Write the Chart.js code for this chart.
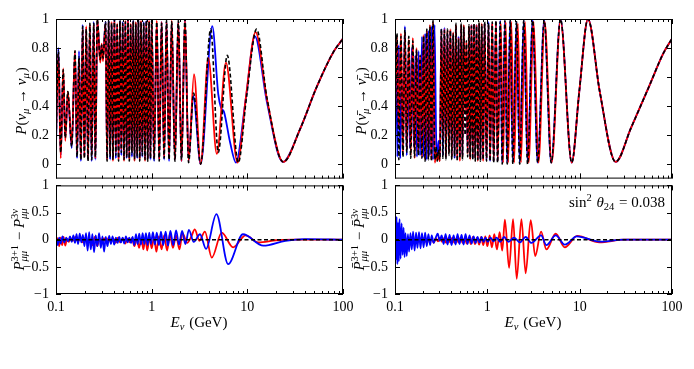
<!DOCTYPE html>
<html>
<head>
<meta charset="utf-8">
<script src="https://cdn.jsdelivr.net/npm/chart.js@4.4.1/dist/chart.umd.min.js"></script>
<style>
  body { margin: 0; background: #fff; width: 694px; height: 369px; position: relative; overflow: hidden; }
  canvas { position: absolute; }
</style>
</head>
<body>
<canvas id="tl" width="360" height="194" style="left:0;top:0"></canvas>
<canvas id="bl" width="360" height="199" style="left:0;top:170px"></canvas>
<canvas id="tr" width="349" height="194" style="left:345px;top:0"></canvas>
<canvas id="br" width="349" height="199" style="left:345px;top:170px"></canvas>
<script>
// tick labels
const xTickVals = [0.1, 1, 10, 100];
const topYTicks = [0, 0.2, 0.4, 0.6, 0.8, 1];
const diffYTicks = [-1, -0.5, 0, 0.5, 1];

// P(nu_mu -> nu_mu): [E (GeV), P]  -- 3nu (black dashed), red, blue
const nuTop3 = [[0.100,0.15],[0.106,0.78],[0.112,0.08],[0.119,0.65],[0.125,0.18],[0.133,0.50],[0.146,0.12],[0.158,0.78],[0.166,0.05],[0.174,0.74],[0.182,0.03],[0.190,0.95],[0.198,0.04],[0.207,0.93],[0.216,0.02],[0.226,0.97],[0.236,0.03],[0.248,0.97],[0.258,0.05],[0.270,1.00],[0.290,0.72],[0.300,0.82],[0.310,0.73],[0.330,0.98],[0.342,0.02],[0.355,0.99],[0.368,0.05],[0.381,0.97],[0.394,0.03],[0.408,1.00],[0.422,0.06],[0.436,0.96],[0.451,0.02],[0.466,0.99],[0.482,0.08],[0.498,0.97],[0.514,0.03],[0.531,0.98],[0.548,0.05],[0.566,1.00],[0.584,0.02],[0.603,0.96],[0.622,0.07],[0.642,0.99],[0.662,0.03],[0.683,0.97],[0.705,0.05],[0.727,0.99],[0.750,0.02],[0.774,0.98],[0.799,0.06],[0.825,0.97],[0.852,0.03],[0.880,0.99],[0.909,0.02],[0.940,0.98],[0.972,0.04],[1.00,0.99],[1.06,0.03],[1.13,0.98],[1.20,0.02],[1.27,0.97],[1.35,0.04],[1.43,0.99],[1.52,0.03],[1.62,0.98],[1.75,0.02],[1.90,0.99],[2.05,0.03],[2.23,1.00],[2.43,0.01],[2.74,0.49],[3.25,0.00],[4.14,0.93],[4.97,0.08],[6.17,0.75],[8.04,0.01],[9.8,0.46],[12.5,0.93],[16.0,0.46],[23.7,0.015],[35.5,0.24],[53.0,0.53],[79.0,0.77],[100,0.865]];
const nuTopRed = [[0.100,0.18],[0.106,0.76],[0.112,0.04],[0.119,0.66],[0.125,0.16],[0.133,0.50],[0.146,0.13],[0.158,0.78],[0.166,0.08],[0.174,0.72],[0.182,0.04],[0.190,0.93],[0.198,0.05],[0.207,0.95],[0.216,0.03],[0.226,0.96],[0.236,0.06],[0.248,0.96],[0.258,0.04],[0.270,1.00],[0.290,0.70],[0.300,0.83],[0.310,0.71],[0.330,0.97],[0.342,0.03],[0.355,0.98],[0.368,0.07],[0.381,0.98],[0.394,0.02],[0.408,0.99],[0.422,0.08],[0.436,0.97],[0.451,0.03],[0.466,0.98],[0.482,0.10],[0.498,0.96],[0.514,0.02],[0.531,0.99],[0.548,0.06],[0.566,0.99],[0.584,0.03],[0.603,0.97],[0.622,0.09],[0.642,0.98],[0.662,0.02],[0.683,0.98],[0.705,0.07],[0.727,0.98],[0.750,0.03],[0.774,0.99],[0.799,0.08],[0.825,0.96],[0.852,0.02],[0.880,0.98],[0.909,0.03],[0.940,0.99],[0.972,0.05],[1.00,0.98],[1.06,0.04],[1.13,0.99],[1.20,0.03],[1.27,0.98],[1.35,0.05],[1.43,0.98],[1.52,0.04],[1.62,0.99],[1.75,0.03],[1.90,0.98],[2.05,0.02],[2.23,1.00],[2.43,0.02],[2.77,0.62],[3.25,0.00],[3.91,0.73],[4.80,0.07],[5.97,0.70],[7.90,0.01],[9.7,0.47],[12.2,0.91],[16.0,0.45],[23.7,0.015],[35.5,0.24],[53.0,0.53],[79.0,0.77],[100,0.865]];
const nuTopBlue = [[0.100,0.12],[0.106,0.80],[0.112,0.06],[0.119,0.62],[0.125,0.19],[0.133,0.48],[0.146,0.11],[0.158,0.76],[0.166,0.04],[0.174,0.78],[0.182,0.02],[0.190,0.96],[0.198,0.06],[0.207,0.92],[0.216,0.03],[0.226,0.95],[0.236,0.02],[0.248,0.98],[0.258,0.03],[0.270,0.99],[0.290,0.73],[0.300,0.82],[0.310,0.74],[0.330,0.98],[0.342,0.04],[0.355,0.99],[0.368,0.03],[0.381,0.96],[0.394,0.05],[0.408,1.00],[0.422,0.04],[0.436,0.95],[0.451,0.04],[0.466,0.99],[0.482,0.06],[0.498,0.98],[0.514,0.05],[0.531,0.97],[0.548,0.04],[0.566,1.00],[0.584,0.04],[0.603,0.95],[0.622,0.05],[0.642,0.99],[0.662,0.05],[0.683,0.96],[0.705,0.04],[0.727,0.99],[0.750,0.04],[0.774,0.97],[0.799,0.05],[0.825,0.98],[0.852,0.04],[0.880,0.99],[0.909,0.04],[0.940,0.97],[0.972,0.03],[1.00,0.99],[1.06,0.02],[1.13,0.97],[1.20,0.03],[1.27,0.98],[1.35,0.03],[1.43,0.98],[1.52,0.02],[1.62,0.97],[1.75,0.03],[1.90,0.98],[2.05,0.02],[2.23,0.99],[2.43,0.02],[2.72,0.47],[3.25,0.00],[4.30,0.95],[4.97,0.48],[5.30,0.39],[5.70,0.36],[6.60,0.15],[7.60,0.01],[9.6,0.44],[12.0,0.88],[16.0,0.43],[23.5,0.015],[35.5,0.24],[53.0,0.53],[79.0,0.77],[100,0.865]];

// P(anti-nu_mu -> anti-nu_mu)
const anuTop3 = [[0.100,0.05],[0.105,0.90],[0.110,0.03],[0.116,0.88],[0.122,0.05],[0.128,0.93],[0.134,0.08],[0.141,0.88],[0.148,0.04],[0.156,0.85],[0.163,0.05],[0.171,0.79],[0.179,0.06],[0.187,0.75],[0.196,0.04],[0.204,0.88],[0.212,0.02],[0.221,0.93],[0.230,0.03],[0.239,0.95],[0.248,0.02],[0.258,0.99],[0.270,0.03],[0.279,0.12],[0.287,0.02],[0.296,0.10],[0.306,0.03],[0.318,0.93],[0.330,0.04],[0.343,0.92],[0.356,0.03],[0.370,0.93],[0.384,0.06],[0.398,0.92],[0.412,0.03],[0.427,0.90],[0.442,0.05],[0.457,0.97],[0.472,0.02],[0.488,0.86],[0.504,0.04],[0.521,0.97],[0.538,0.03],[0.556,0.95],[0.574,0.20],[0.593,0.85],[0.612,0.05],[0.632,0.96],[0.652,0.04],[0.673,0.95],[0.695,0.03],[0.717,0.97],[0.740,0.02],[0.764,0.95],[0.789,0.03],[0.815,0.98],[0.842,0.02],[0.870,0.96],[0.900,0.03],[0.935,0.98],[0.980,0.02],[1.03,0.97],[1.07,0.02],[1.13,0.98],[1.17,0.01],[1.24,0.99],[1.29,0.01],[1.38,0.98],[1.45,0.00],[1.55,0.99],[1.64,0.00],[1.77,0.99],[1.89,0.00],[2.07,0.98],[2.24,0.00],[2.48,0.99],[2.73,0.00],[3.10,0.99],[3.51,0.01],[4.13,0.99],[4.92,0.01],[6.2,1.00],[8.2,0.01],[9.9,0.50],[12.3,1.00],[16.5,0.50],[24.5,0.015],[36,0.25],[56,0.53],[80,0.76],[100,0.865]];
const anuTopRed = [[0.100,0.30],[0.105,0.88],[0.110,0.25],[0.116,0.90],[0.122,0.08],[0.128,0.91],[0.134,0.10],[0.141,0.86],[0.148,0.06],[0.156,0.87],[0.163,0.04],[0.171,0.80],[0.179,0.08],[0.187,0.74],[0.196,0.05],[0.204,0.89],[0.212,0.03],[0.221,0.92],[0.230,0.05],[0.239,0.96],[0.248,0.03],[0.258,0.98],[0.270,0.01],[0.279,0.08],[0.287,0.03],[0.296,0.06],[0.306,0.02],[0.318,0.92],[0.330,0.18],[0.343,0.93],[0.356,0.05],[0.370,0.92],[0.384,0.08],[0.398,0.93],[0.412,0.05],[0.427,0.91],[0.442,0.07],[0.457,0.96],[0.472,0.04],[0.488,0.87],[0.504,0.02],[0.521,0.96],[0.538,0.05],[0.556,0.96],[0.574,0.35],[0.593,0.84],[0.612,0.07],[0.632,0.95],[0.652,0.03],[0.673,0.96],[0.695,0.05],[0.717,0.96],[0.740,0.04],[0.764,0.96],[0.789,0.02],[0.815,0.97],[0.842,0.04],[0.870,0.97],[0.900,0.02],[0.935,0.97],[0.980,0.04],[1.03,0.96],[1.07,0.03],[1.13,0.97],[1.17,0.02],[1.24,0.98],[1.29,0.02],[1.40,0.97],[1.48,0.01],[1.58,0.98],[1.68,0.01],[1.82,0.98],[1.95,0.01],[2.14,0.97],[2.31,0.01],[2.56,0.98],[2.80,0.01],[3.17,0.98],[3.58,0.01],[4.18,0.98],[4.97,0.01],[6.2,0.99],[8.2,0.01],[9.9,0.50],[12.3,1.00],[16.5,0.50],[24.5,0.015],[36,0.25],[56,0.53],[80,0.76],[100,0.865]];
const anuTopBlue = [[0.100,0.62],[0.103,0.83],[0.106,0.05],[0.110,0.82],[0.114,0.04],[0.118,0.60],[0.122,0.15],[0.128,0.95],[0.134,0.06],[0.139,0.70],[0.145,0.11],[0.152,0.80],[0.160,0.12],[0.166,0.75],[0.173,0.05],[0.180,0.78],[0.187,0.06],[0.196,0.88],[0.204,0.05],[0.212,0.90],[0.221,0.03],[0.230,0.92],[0.239,0.06],[0.248,0.95],[0.258,0.03],[0.268,0.96],[0.279,0.18],[0.287,0.04],[0.296,0.16],[0.306,0.05],[0.318,0.93],[0.330,0.06],[0.343,0.94],[0.356,0.05],[0.370,0.90],[0.384,0.09],[0.398,0.92],[0.412,0.06],[0.427,0.89],[0.442,0.04],[0.457,0.95],[0.472,0.06],[0.488,0.88],[0.504,0.05],[0.521,0.95],[0.538,0.06],[0.556,0.93],[0.574,0.45],[0.593,0.60],[0.612,0.08],[0.632,0.94],[0.652,0.05],[0.673,0.96],[0.695,0.04],[0.717,0.95],[0.740,0.05],[0.764,0.96],[0.789,0.04],[0.815,0.96],[0.842,0.03],[0.870,0.95],[0.900,0.04],[0.935,0.97],[0.980,0.03],[1.03,0.98],[1.07,0.02],[1.13,0.97],[1.17,0.02],[1.24,0.98],[1.29,0.02],[1.38,0.99],[1.45,0.01],[1.55,0.98],[1.64,0.01],[1.77,0.99],[1.89,0.01],[2.07,0.98],[2.24,0.01],[2.48,0.99],[2.73,0.01],[3.10,0.99],[3.51,0.01],[4.13,0.99],[4.92,0.01],[6.2,1.00],[8.2,0.01],[9.9,0.50],[12.3,1.00],[16.5,0.50],[24.5,0.015],[36,0.25],[56,0.53],[80,0.76],[100,0.865]];

// P(3+1) - P(3nu), neutrinos
const nuDiffRed = [[0.100,-0.08],[0.104,0.03],[0.108,-0.12],[0.112,0.04],[0.116,-0.10],[0.120,0.05],[0.125,-0.11],[0.130,0.02],[0.136,-0.04],[0.142,0.03],[0.150,-0.02],[0.160,0.05],[0.170,-0.03],[0.180,0.02],[0.190,-0.05],[0.200,0.03],[0.212,-0.04],[0.225,0.02],[0.240,-0.10],[0.255,0.05],[0.270,-0.12],[0.285,0.04],[0.300,-0.08],[0.318,0.03],[0.336,-0.06],[0.355,0.04],[0.375,-0.05],[0.395,0.03],[0.420,-0.06],[0.445,0.04],[0.470,-0.05],[0.500,0.03],[0.530,-0.07],[0.560,0.02],[0.590,-0.05],[0.620,0.03],[0.660,-0.12],[0.700,0.02],[0.740,-0.15],[0.780,0.03],[0.820,-0.18],[0.860,0.04],[0.900,-0.20],[0.950,0.05],[1.00,-0.16],[1.06,0.05],[1.12,-0.22],[1.19,0.06],[1.27,-0.18],[1.35,0.08],[1.45,-0.20],[1.55,0.10],[1.67,-0.15],[1.80,0.08],[1.95,-0.18],[2.10,0.12],[2.35,-0.06],[2.60,0.06],[2.82,0.19],[3.15,-0.02],[3.60,0.15],[4.25,-0.33],[5.40,0.13],[7.1,-0.14],[9.6,0.08],[13.0,-0.05],[20,-0.01],[30,0.0],[100,0.0]];
const nuDiffBlue = [[0.100,0.05],[0.104,-0.10],[0.108,0.04],[0.112,-0.07],[0.117,0.06],[0.122,-0.05],[0.128,0.04],[0.134,-0.03],[0.140,0.06],[0.146,-0.04],[0.152,0.08],[0.158,-0.06],[0.164,0.10],[0.170,-0.08],[0.177,0.11],[0.184,-0.05],[0.191,0.09],[0.198,-0.12],[0.206,0.12],[0.214,-0.20],[0.222,0.14],[0.231,-0.18],[0.240,0.10],[0.250,-0.23],[0.260,0.08],[0.271,-0.12],[0.282,0.12],[0.294,-0.15],[0.306,0.06],[0.318,-0.22],[0.331,0.05],[0.345,-0.12],[0.360,0.07],[0.375,-0.08],[0.390,0.06],[0.406,-0.09],[0.423,0.04],[0.440,-0.06],[0.458,0.05],[0.477,-0.05],[0.497,0.04],[0.517,-0.07],[0.538,0.06],[0.560,-0.05],[0.583,0.04],[0.607,-0.06],[0.632,0.05],[0.658,-0.10],[0.685,0.10],[0.713,-0.08],[0.742,0.11],[0.772,-0.09],[0.804,0.12],[0.837,-0.08],[0.871,0.12],[0.907,-0.10],[0.944,0.13],[0.983,-0.08],[1.03,0.14],[1.08,-0.09],[1.13,0.13],[1.19,-0.10],[1.25,0.15],[1.32,-0.10],[1.40,0.15],[1.48,-0.11],[1.57,0.16],[1.68,-0.10],[1.80,0.17],[1.93,-0.09],[2.08,0.16],[2.25,-0.08],[2.45,0.18],[2.75,-0.04],[3.20,0.10],[3.70,-0.17],[4.75,0.47],[6.30,-0.45],[9.0,0.10],[14.7,-0.11],[25,-0.02],[40,0.01],[100,0.0]];

// anti-neutrinos
const anuDiffRed = [[0.100,0.05],[0.103,-0.08],[0.106,0.06],[0.109,-0.10],[0.112,0.05],[0.116,-0.06],[0.120,0.04],[0.124,-0.12],[0.129,0.03],[0.134,-0.05],[0.140,0.04],[0.146,-0.03],[0.153,0.05],[0.160,-0.04],[0.168,0.03],[0.176,-0.05],[0.185,0.04],[0.194,-0.03],[0.204,0.03],[0.215,-0.04],[0.226,0.04],[0.238,-0.05],[0.250,0.02],[0.263,-0.06],[0.277,0.03],[0.292,-0.03],[0.307,0.04],[0.323,-0.04],[0.340,0.03],[0.358,-0.06],[0.377,0.03],[0.397,-0.05],[0.418,0.04],[0.440,-0.06],[0.463,0.03],[0.487,-0.05],[0.513,0.04],[0.540,-0.06],[0.568,0.03],[0.598,-0.07],[0.630,0.04],[0.663,-0.08],[0.698,0.05],[0.735,-0.08],[0.774,0.04],[0.815,-0.09],[0.858,0.05],[0.903,-0.10],[0.951,0.06],[1.00,-0.12],[1.06,0.08],[1.12,-0.14],[1.19,0.10],[1.27,-0.18],[1.36,0.14],[1.45,-0.20],[1.55,0.37],[1.72,-0.52],[1.90,0.38],[2.08,-0.72],[2.34,0.38],[2.60,-0.62],[2.95,0.36],[3.30,-0.30],[3.82,0.15],[4.36,-0.18],[5.5,0.11],[6.9,-0.14],[9.4,0.07],[16.4,-0.05],[30,0.0],[100,0.0]];
const anuDiffBlue = [[0.100,0.30],[0.102,-0.38],[0.104,0.42],[0.106,-0.45],[0.108,0.32],[0.110,-0.40],[0.112,0.38],[0.115,-0.35],[0.118,0.30],[0.121,-0.28],[0.124,0.22],[0.127,-0.32],[0.130,0.12],[0.134,-0.30],[0.138,0.10],[0.142,-0.22],[0.147,0.12],[0.152,-0.18],[0.157,0.15],[0.163,-0.20],[0.169,0.13],[0.175,-0.15],[0.182,0.14],[0.189,-0.16],[0.196,0.12],[0.204,-0.14],[0.212,0.13],[0.221,-0.12],[0.230,0.10],[0.240,-0.10],[0.250,0.08],[0.262,-0.06],[0.275,0.03],[0.290,0.11],[0.305,-0.02],[0.320,0.08],[0.336,-0.08],[0.353,0.10],[0.371,-0.09],[0.390,0.09],[0.410,-0.10],[0.431,0.08],[0.453,-0.09],[0.476,0.10],[0.500,-0.08],[0.526,0.09],[0.553,-0.09],[0.581,0.10],[0.611,-0.08],[0.642,0.08],[0.675,-0.07],[0.710,0.06],[0.746,-0.06],[0.784,0.05],[0.824,-0.05],[0.866,0.05],[0.910,-0.04],[0.957,0.04],[1.01,-0.04],[1.08,0.04],[1.16,-0.03],[1.26,0.04],[1.38,-0.04],[1.52,0.05],[1.70,-0.04],[1.95,0.04],[2.25,-0.05],[2.60,0.05],[3.00,-0.06],[3.82,0.08],[4.36,-0.10],[5.5,0.08],[6.9,-0.09],[9.3,0.06],[17,-0.035],[30,0.0],[100,0.0]];

const zeroLine = [[0.1, 0], [100, 0]];

Chart.defaults.font.family = "'Liberation Serif', 'DejaVu Serif', serif";
Chart.defaults.font.size = 14;
Chart.defaults.color = '#000';

const MATH_FONT = 15;
function fontStr(size, italic) {
  return (italic ? 'italic ' : '') + size + "px 'Liberation Serif', 'DejaVu Serif', serif";
}

// lays out a list of math pieces; each piece is {t, i} or {sup, sub}
function drawMath(ctx, parts, cx, cy, rot, align) {
  const size = MATH_FONT, small = size * 0.7;
  const items = [];
  let x = 0;
  for (const p of parts) {
    if (p.sup !== undefined || p.sub !== undefined) {
      let w = 0;
      if (p.sup) {
        ctx.font = fontStr(small, p.supI);
        items.push({ t: p.sup, f: ctx.font, x, y: -size * 0.38 });
        w = Math.max(w, ctx.measureText(p.sup).width);
      }
      if (p.sub) {
        ctx.font = fontStr(small, p.subI !== false);
        items.push({ t: p.sub, f: ctx.font, x, y: size * 0.22 });
        w = Math.max(w, ctx.measureText(p.sub).width);
      }
      x += w + 1;
    } else {
      ctx.font = fontStr(size, p.i);
      items.push({ t: p.t, f: ctx.font, x, y: 0 });
      x += ctx.measureText(p.t).width;
    }
  }
  const start = align === 'right' ? -x : (align === 'left' ? 0 : -x / 2);
  ctx.save();
  ctx.translate(cx, cy);
  ctx.rotate(rot || 0);
  ctx.fillStyle = '#000';
  ctx.textBaseline = 'alphabetic';
  ctx.textAlign = 'left';
  for (const it of items) {
    ctx.font = it.f;
    ctx.fillText(it.t, start + it.x, it.y + size * 0.3);
  }
  ctx.restore();
}

// frame with inward ticks + math labels
const framePlugin = {
  id: 'frame',
  afterDraw(chart, args, o) {
    const { ctx, chartArea: a, scales: { x, y } } = chart;
    ctx.save();
    ctx.strokeStyle = '#000';
    ctx.lineWidth = 1;
    ctx.strokeRect(a.left + 0.5, a.top + 0.5, a.right - a.left - 1, a.bottom - a.top - 1);
    ctx.beginPath();
    for (const d of [0.1, 1, 10]) {
      for (let k = 1; k <= 10; k++) {
        const v = d * k;
        if (v > 100.0001) continue;
        const px = Math.round(x.getPixelForValue(v)) + 0.5;
        const len = (k === 1 || k === 10) ? 5 : 3;
        ctx.moveTo(px, a.bottom); ctx.lineTo(px, a.bottom - len);
        ctx.moveTo(px, a.top); ctx.lineTo(px, a.top + len);
      }
    }
    for (const v of o.yTicks) {
      const py = Math.round(y.getPixelForValue(v)) + 0.5;
      ctx.moveTo(a.left, py); ctx.lineTo(a.left + 5, py);
      ctx.moveTo(a.right, py); ctx.lineTo(a.right - 5, py);
    }
    ctx.stroke();
    ctx.restore();
    for (const t of o.texts || []) {
      drawMath(ctx, t.parts, t.x - o.ox, t.y - o.oy, t.rot, t.align);
    }
  }
};
Chart.register(framePlugin);

function line(pairs, color, dashed) {
  return {
    data: pairs.map(([e, p]) => ({ x: e, y: p })),
    borderColor: color,
    borderWidth: dashed ? 1.6 : 1.8,
    borderDash: dashed ? [4, 2.5] : [],
    pointRadius: 0,
    cubicInterpolationMode: 'monotone',
    fill: false
  };
}

function makePanel(id, ox, oy, datasets, cfg) {
  const showX = cfg.showX;
  new Chart(document.getElementById(id), {
    type: 'line',
    data: { datasets },
    options: {
      responsive: false,
      animation: false,
      events: [],
      layout: { padding: cfg.padding },
      plugins: {
        legend: { display: false },
        tooltip: { enabled: false },
        frame: { ox, oy, yTicks: cfg.yTicks, texts: cfg.texts }
      },
      scales: {
        x: {
          type: 'logarithmic',
          min: 0.1, max: 100,
          display: showX,
          afterBuildTicks: s => { s.ticks = xTickVals.map(v => ({ value: v })); },
          ticks: { callback: v => String(v), autoSkip: false, maxRotation: 0, minRotation: 0, padding: 5 },
          grid: { display: false, drawTicks: false },
          border: { display: false },
          afterFit: s => { if (showX) s.height = cfg.xHeight; }
        },
        y: {
          min: cfg.yMin, max: cfg.yMax,
          afterBuildTicks: s => { s.ticks = cfg.yTicks.map(v => ({ value: v })); },
          ticks: { callback: v => String(v).replace('-', '\u2212'), padding: 7 },
          grid: { display: false, drawTicks: false },
          border: { display: false },
          afterFit: s => { s.width = cfg.yWidth; }
        }
      }
    }
  });
}

const sub = (s) => ({ sub: s });
const labTL = [{ t: 'P', i: true }, { t: '(' }, { t: 'ν', i: true }, sub('μ'), { t: ' → ' }, { t: 'ν', i: true }, sub('μ'), { t: ')' }];
const labTR = [{ t: 'P', i: true }, { t: '(' }, { t: 'ν\u0304', i: true }, sub('μ'), { t: ' → ' }, { t: 'ν\u0304', i: true }, sub('μ'), { t: ')' }];
const labBL = [{ t: 'P', i: true }, { sup: '3+1', sub: 'μμ' }, { t: ' − ' }, { t: 'P', i: true }, { sup: '3ν', sub: 'μμ' }];
const labBR = [{ t: 'P\u0304', i: true }, { sup: '3+1', sub: 'μμ' }, { t: ' − ' }, { t: 'P\u0304', i: true }, { sup: '3ν', sub: 'μμ' }];
const labX = [{ t: 'E', i: true }, sub('ν'), { t: ' (GeV)' }];
const labSin = [{ t: 'sin' }, { sup: '2' }, { t: ' ' }, { t: 'θ', i: true }, { sub: '24', subI: false }, { t: ' = 0.038' }];

makePanel('tl', 0, 0,
  [line(nuTop3, '#000', true), line(nuTopRed, '#ff0000'), line(nuTopBlue, '#0000ff')],
  { showX: false, padding: { top: 19, right: 17, bottom: 10, left: 0 }, yWidth: 56,
    yMin: -0.1, yMax: 1, yTicks: topYTicks,
    texts: [{ parts: labTL, x: 21, y: 101, rot: -Math.PI / 2 }] });

makePanel('bl', 0, 170,
  [line(zeroLine, '#000', true), line(nuDiffBlue, '#0000ff'), line(nuDiffRed, '#ff0000')],
  { showX: true, padding: { top: 14, right: 17, bottom: 0, left: 0 }, yWidth: 56, xHeight: 75,
    yMin: -1, yMax: 1, yTicks: diffYTicks,
    texts: [{ parts: labBL, x: 19, y: 239, rot: -Math.PI / 2 },
            { parts: labX, x: 199, y: 322 }] });

makePanel('tr', 345, 0,
  [line(anuTop3, '#000', true), line(anuTopRed, '#ff0000'), line(anuTopBlue, '#0000ff')],
  { showX: false, padding: { top: 19, right: 22, bottom: 10, left: 0 }, yWidth: 50,
    yMin: -0.1, yMax: 1, yTicks: topYTicks,
    texts: [{ parts: labTR, x: 361, y: 101, rot: -Math.PI / 2 }] });

makePanel('br', 345, 170,
  [line(zeroLine, '#000', true), line(anuDiffBlue, '#0000ff'), line(anuDiffRed, '#ff0000')],
  { showX: true, padding: { top: 14, right: 22, bottom: 0, left: 0 }, yWidth: 50, xHeight: 75,
    yMin: -1, yMax: 1, yTicks: diffYTicks,
    texts: [{ parts: labBR, x: 359, y: 239, rot: -Math.PI / 2 },
            { parts: labX, x: 533, y: 322 },
            { parts: labSin, x: 665, y: 202, align: 'right' }] });
</script>
</body>
</html>
